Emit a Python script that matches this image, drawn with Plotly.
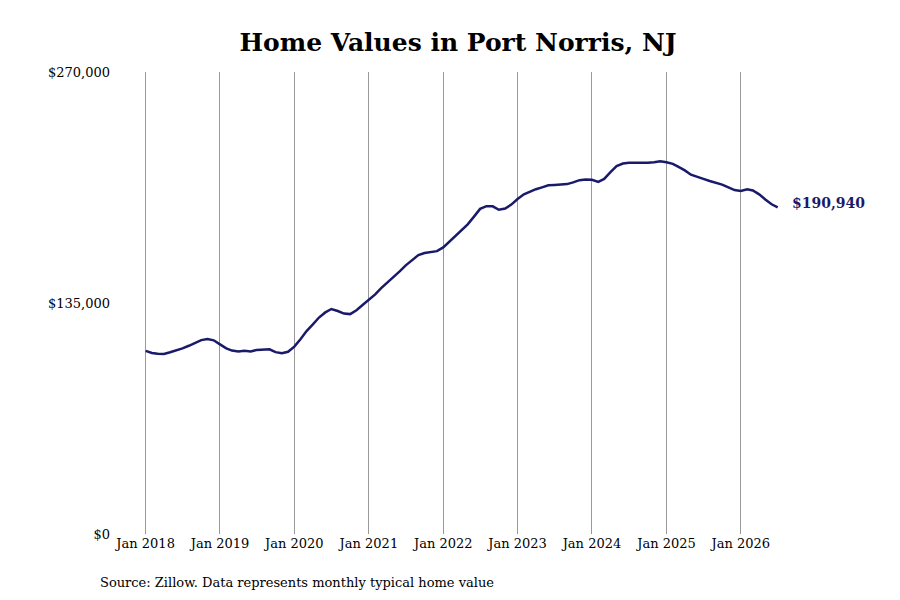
import pandas as pd
import plotly.graph_objects as go

# monthly typical home value, thousands of dollars, Jan 2018 - Jul 2026
values_2018 = [107.0, 105.8, 105.3, 105.2, 106.2, 107.3, 108.5, 110.0, 111.5, 113.3, 114.0, 113.2]
values_2019 = [110.8, 108.5, 107.2, 106.6, 107.1, 106.7, 107.6, 107.7, 107.9, 106.3, 105.6, 106.5]
values_2020 = [109.5, 114.0, 118.6, 122.5, 126.5, 129.5, 131.5, 130.3, 128.8, 128.5, 130.8, 133.8]
values_2021 = [137.0, 140.0, 143.6, 146.8, 150.2, 153.5, 157.0, 160.2, 163.0, 164.2, 164.6, 165.3]
values_2022 = [167.5, 171.0, 174.3, 177.5, 181.0, 185.5, 190.0, 191.6, 191.5, 189.5, 190.2, 192.5]
values_2023 = [195.8, 198.5, 200.0, 201.5, 202.6, 203.8, 204.0, 204.2, 204.5, 205.5, 206.8, 207.2]
values_2024 = [207.0, 205.8, 207.5, 211.5, 215.0, 216.5, 217.0, 217.0, 216.9, 217.0, 217.3, 217.8]
values_2025 = [217.2, 216.3, 214.5, 212.5, 210.0, 208.5, 207.5, 206.3, 205.2, 204.2, 202.6, 201.0]
values_2026 = [200.5, 201.5, 200.8, 198.5, 195.5, 192.7, 190.94]

values = (values_2018 + values_2019 + values_2020 + values_2021 + values_2022
          + values_2023 + values_2024 + values_2025 + values_2026)
dates = pd.date_range("2018-01-01", periods=len(values), freq="MS")
home_values = [v * 1000 for v in values]

tick_dates = pd.date_range("2018-01-01", "2026-01-01", freq="YS")
tick_labels = [f"Jan {d.year}" for d in tick_dates]
navy = "#1a1a6b"

fig = go.Figure()
fig.add_trace(go.Scatter(x=dates, y=home_values, mode="lines",
                         line=dict(color=navy, width=2.5), showlegend=False))

fig.add_annotation(x=dates[-1], y=home_values[-1], text="<b>$190,940</b>",
                   showarrow=False, xanchor="left", xshift=12, yshift=4,
                   font=dict(color=navy, size=14, family="DejaVu Serif"))
fig.add_annotation(x=0, y=0, xref="paper", yref="paper", xanchor="left", yanchor="top",
                   text="Source: Zillow. Data represents monthly typical home value",
                   showarrow=False, yshift=-39, xshift=-13,
                   font=dict(size=13, family="DejaVu Serif", color="black"))

fig.update_layout(
    width=900, height=600,
    paper_bgcolor="white", plot_bgcolor="white",
    margin=dict(l=103, r=27, t=64, b=74),
    title=dict(text="<b>Home Values in Port Norris, NJ</b>", x=0.5, xanchor="center",
               y=0.957, font=dict(size=25, family="DejaVu Serif", color="black")),
    font=dict(family="DejaVu Serif", size=13, color="black"),
)
fig.update_xaxes(range=["2017-07-15", "2027-11-20"], tickvals=tick_dates, ticktext=tick_labels,
                 showgrid=True, gridcolor="#999999", gridwidth=1, showline=False,
                 zeroline=False, ticks="", tickfont=dict(size=13))
fig.update_yaxes(range=[0, 270000], tickvals=[0, 135000, 270000],
                 ticktext=["$0", "$135,000", "$270,000"], showgrid=False,
                 zeroline=False, showline=False, ticks="", tickfont=dict(size=13))

fig.write_html("out.html")
